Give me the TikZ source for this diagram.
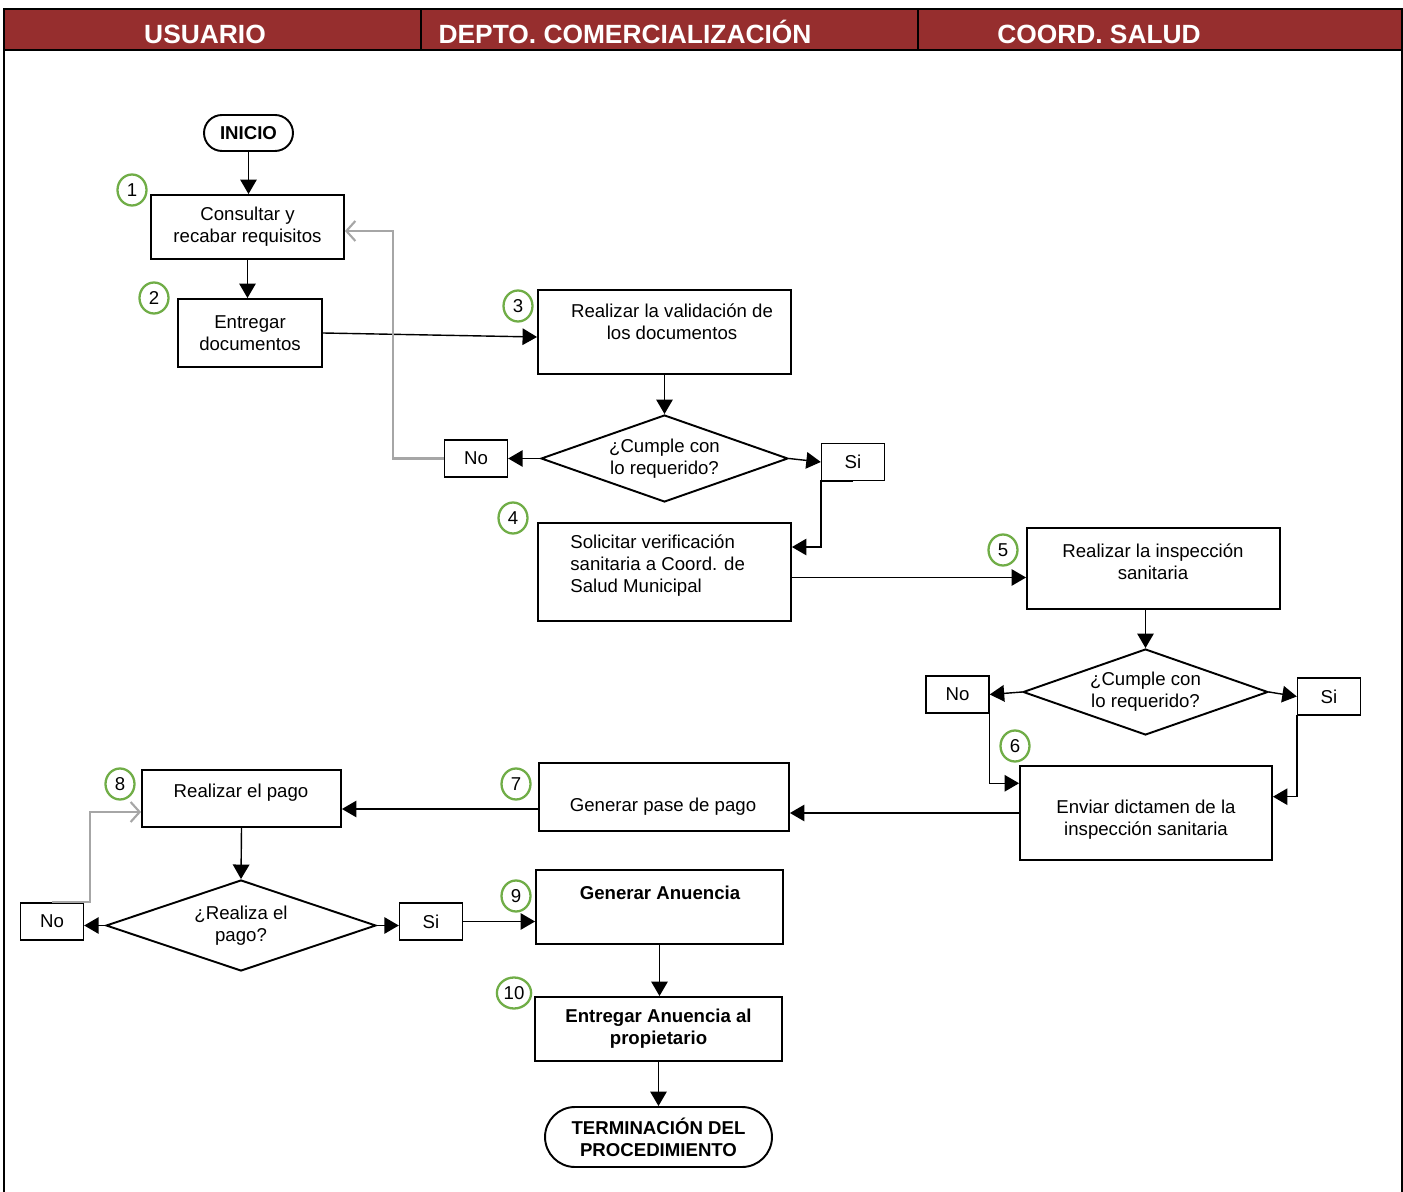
\documentclass[tikz,border=0pt]{standalone}
\usepackage{fontspec}
\setmainfont{Liberation Sans}
\usetikzlibrary{arrows.meta,shapes.geometric,calc}
\definecolor{encabezado}{RGB}{150,46,46}
\definecolor{verde}{RGB}{112,173,71}
\tikzset{
  caja/.style={draw,line width=1.1pt,inner sep=2pt,align=center,font=\fontsize{10.6}{12.5}\selectfont},
  resp/.style={draw,line width=0.8pt,minimum width=1.26cm,minimum height=0.74cm,font=\fontsize{10.6}{12.5}\selectfont},
  decision/.style={diamond,draw,line width=1.1pt,aspect=2.8,inner sep=0pt,align=center,font=\fontsize{10.6}{12.5}\selectfont},
  paso/.style={ellipse,draw=verde,line width=1.3pt,minimum width=0.58cm,minimum height=0.62cm,inner sep=1pt,font=\fontsize{10.6}{12.5}\selectfont},
  txt/.style={align=center,inner sep=0pt,font=\fontsize{10.6}{12.5}\selectfont},
  negrita/.style={font=\fontsize{10.6}{12.5}\selectfont\bfseries},
  arr/.style={-{Triangle[length=0.29cm,width=0.33cm]},line width=0.8pt},
  back/.style={-{Straight Barb[length=0.18cm,width=0.4cm]},draw=black!35,line width=1.2pt},
  carril/.style={anchor=base,inner sep=0pt,font=\fontsize{15}{18}\selectfont\bfseries,text=white}
}
\begin{document}
\begin{tikzpicture}[x=0.02cm,y=-0.02cm]
\useasboundingbox (0,0) rectangle (1403,1192);
\fill[encabezado] (4,9) rectangle (1402,50);
\draw[line width=1.6pt] (4,1192) -- (4,9) -- (1402,9) -- (1402,1192);
\draw[line width=1.6pt] (4,50) -- (1402,50);
\draw[line width=1.6pt] (421,9) -- (421,50);
\draw[line width=1.6pt] (918,9) -- (918,50);
\node[carril] (usuario) at (205,44) {USUARIO};
\node[carril] (depto) at (625,44) {DEPTO. COMERCIALIZACIÓN};
\node[carril] (coord) at (1099,44) {COORD. SALUD};

\node[caja,negrita,rounded corners=0.36cm,minimum width=1.78cm,minimum height=0.72cm] (inicio) at (248.5,133) {INICIO};
\node[caja,minimum width=3.86cm,minimum height=1.28cm] (b1) at (247.5,227) {Consultar y\\recabar requisitos};
\node[caja,minimum width=2.88cm,minimum height=1.36cm] (b2) at (250,333) {Entregar\\documentos};
\node[caja,minimum width=5.06cm,minimum height=1.68cm] (b3) at (664.5,332) {};
\node[txt] (t3) at (672,322) {Realizar la validación de\\los documentos};
\node[decision,minimum width=4.94cm,minimum height=1.74cm] (d1) at (664.5,458.5) {¿Cumple con\\lo requerido?};
\node[resp] (no1) at (476,458.5) {No};
\node[resp] (si1) at (853,462) {Si};
\node[caja,minimum width=5.06cm,minimum height=1.96cm] (b4) at (664.5,572) {};
\node[txt,align=left,anchor=west] (t4) at (570,566) {Solicitar verificación\\sanitaria a Coord. de\\Salud Municipal};
\node[caja,minimum width=5.06cm,minimum height=1.62cm] (b5) at (1153.5,568.5) {};
\node[txt] (t5) at (1153,562) {Realizar la inspección\\sanitaria};
\node[decision,minimum width=4.9cm,minimum height=1.72cm] (d2) at (1145.5,692) {¿Cumple con\\lo requerido?};
\node[resp] (no2) at (957.5,694.5) {No};
\node[resp] (si2) at (1329,696.5) {Si};
\node[caja,minimum width=5.04cm,minimum height=1.88cm] (b6) at (1146,813) {};
\node[txt] (t6) at (1146,820) {Enviar dictamen de la\\inspección sanitaria};
\node[caja,minimum width=5cm,minimum height=1.36cm] (b7) at (664,797) {};
\node[txt] (t7) at (663,807) {Generar pase de pago};
\node[caja,minimum width=3.98cm,minimum height=1.14cm] (b8) at (241.5,798.5) {};
\node[txt] (t8) at (241,793) {Realizar el pago};
\node[decision,minimum width=5.4cm,minimum height=1.82cm] (d3) at (241,925.5) {¿Realiza el\\pago?};
\node[resp] (no3) at (52,921.5) {No};
\node[resp] (si3) at (431,921.5) {Si};
\node[caja,minimum width=4.94cm,minimum height=1.48cm] (b9) at (659.5,907) {};
\node[txt,negrita] (t9) at (660,893) {Generar Anuencia};
\node[caja,negrita,minimum width=4.94cm,minimum height=1.28cm] (b10) at (658.5,1029) {Entregar Anuencia al\\propietario};
\node[caja,negrita,rounded corners=0.6cm,minimum width=4.54cm,minimum height=1.2cm] (fin) at (658.5,1137) {TERMINACIÓN DEL\\PROCEDIMIENTO};

\node[paso] (c1) at (132,190) {1};
\node[paso] (c2) at (154,298) {2};
\node[paso] (c3) at (518,306) {3};
\node[paso] (c4) at (513,518) {4};
\node[paso] (c5) at (1003,550) {5};
\node[paso] (c6) at (1015,746) {6};
\node[paso] (c7) at (516,784) {7};
\node[paso] (c8) at (120,784) {8};
\node[paso] (c9) at (516,896) {9};
\node[paso] (c10) at (514,993) {10};

\coordinate (r1) at (393,231);
\coordinate (k3) at ($(b3.west)+(0,5)$);
\coordinate (k4) at ($(b4.north east)!0.25!(b4.south east)$);
\coordinate (k5) at ($(b5.west)+(0,9)$);
\coordinate (k6a) at ($(b6.north west)!0.19!(b6.south west)$);
\coordinate (k6b) at ($(b6.north east)!0.33!(b6.south east)$);
\coordinate (p7) at ($(b7.west)+(0,12)$);
\coordinate (r8) at (90,812);

\draw[arr] (inicio.south) -- (inicio.south |- b1.north);
\draw[arr] (b1.south) -- (b1.south |- b2.north);
\draw[arr] (b2.east) -- (k3);
\draw[arr] (b3.south) -- (d1.north);
\draw[arr] (d1.west) -- (no1.east);
\draw[arr] (d1.east) -- (si1.west);
\draw[back] (no1.west) -| (r1) -- (b1.east |- r1);
\draw[arr] (si1.south) -- (si1.south west) |- (k4);
\draw[arr] (k5 -| b4.east) -- (k5);
\draw[arr] (d2.north |- b5.south) -- (d2.north);
\draw[arr] (d2.west) -- (no2.east);
\draw[arr] (d2.east) -- (si2.west);
\draw[arr] (no2.south) -- (no2.south east) |- (k6a);
\draw[arr] (si2.south) -- (si2.south west) |- (k6b);
\draw[arr] (b6.west) -- (b6.west -| b7.east);
\draw[arr] (p7) -- (p7 -| b8.east);
\draw[arr] (b8.south) -- (d3.north);
\draw[arr] (d3.west) -- (d3.west -| no3.east);
\draw[arr] (d3.east) -- (d3.east -| si3.west);
\draw[back] (no3.north) -| (r8) -- (r8 -| b8.west);
\draw[arr] (si3.east) -- (si3.east -| b9.west);
\draw[arr] (b9.south) -- (b9.south |- b10.north);
\draw[arr] (b10.south) -- (fin.north);
\end{tikzpicture}
\end{document}
